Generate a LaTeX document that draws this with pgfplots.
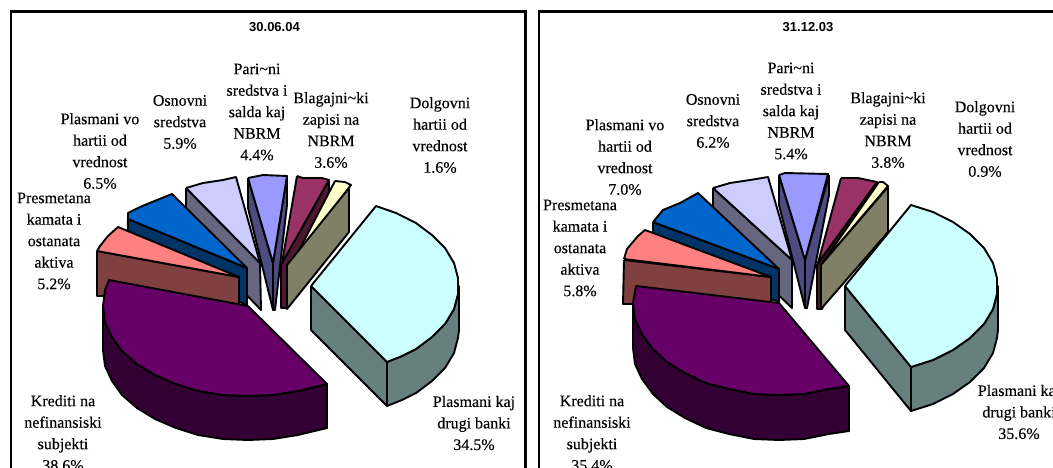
\documentclass[border=0pt]{standalone}
\usepackage{fontspec}
\usepackage{pgfplots}
\pgfplotsset{compat=1.18}
\setmainfont{Liberation Serif}[FakeBold=0.25]
\newfontfamily\titlefont{Liberation Sans}
\definecolor{cCyan}{HTML}{CCFFFF}\definecolor{sCyan}{HTML}{668080}
\definecolor{cPurp}{HTML}{660066}\definecolor{sPurp}{HTML}{330033}
\definecolor{cPink}{HTML}{FF8080}\definecolor{sPink}{HTML}{804040}
\definecolor{cBlue}{HTML}{0066CC}\definecolor{sBlue}{HTML}{003366}
\definecolor{cLav}{HTML}{CCCCFF}\definecolor{sLav}{HTML}{666680}
\definecolor{cPeri}{HTML}{9999FF}\definecolor{sPeri}{HTML}{4C4C80}
\definecolor{cMar}{HTML}{993366}\definecolor{sMar}{HTML}{4C1933}
\definecolor{cYel}{HTML}{FFFFCC}\definecolor{sYel}{HTML}{808066}
\pgfplotsset{sl/.style={draw=black,line width=1.9pt,line join=round,fill=#1}}
\tikzset{lab/.style={align=center,inner sep=0pt,font=\fontsize{16}{21.5}\selectfont},
 ttl/.style={inner sep=0pt,font=\titlefont\bfseries\fontsize{13}{15}\selectfont}}
\begin{document}
\begin{tikzpicture}
\path[use as bounding box] (0,0) rectangle (1053pt,467pt);
\clip (0,0) rectangle (1053pt,467pt);
\begin{axis}[at={(0,0)},anchor=south west,scale only axis,width=1053pt,height=467pt,
  xmin=0,xmax=1053,ymin=0,ymax=467,y dir=reverse,hide axis,clip=false]
% frames
\addplot[draw=black,line width=2.2pt] coordinates {(11,480)(11,11.5)(525.5,11.5)(525.5,480)};
\addplot[draw=black,line width=2.2pt] coordinates {(539,480)(539,11.5)(1070,11.5)(1070,480)};
%%% CHART 1
% lavender
\addplot[sl=sLav] coordinates {(186,188)(260,263)(261,310)(186,232)(186,188)};
\addplot[sl=cLav] coordinates {(186,188)(203,183)(223,180)(236,177)(260,263)(186,188)};
% periwinkle
\addplot[sl=sPeri] coordinates {(248,178)(273,263)(273,310)(248,208)(248,178)};
\addplot[sl=sPeri] coordinates {(287,176)(273,263)(273,310)(275,310)(287,205)(287,176)};
\addplot[sl=cPeri] coordinates {(248,178)(263,175)(287,176)(273,263)(248,178)};
% maroon
\addplot[sl=sMar] coordinates {(329,180)(329,200)(287,308)(281,308)(281,265)(329,180)};
\addplot[sl=cMar] coordinates {(297,176)(303,178)(322,178)(329,180)(282,263)(297,176)};
% yellow
\addplot[sl=cYel] coordinates {(335,181)(345,182)(351,185)(295,258)(335,181)};
\addplot[sl=sYel] coordinates {(349,188)(287,265)(287,309)(349,232)(349,188)};
% blue
\addplot[sl=sBlue] coordinates {(128,219)(247,268)(247,305)(127,256)(128,219)};
\addplot[sl=cBlue] coordinates {(128,219)(128,213)(140,207)(157,200)(172,194)(247,268)(128,219)};
% pink
\addplot[sl=sPink] coordinates {(97,251)(239,277)(239,310)(110,296)(97,296)(97,251)};
\addplot[sl=cPink] coordinates {(97,251)(100,246)(108,236)(118,227)(239,277)(97,251)};
% purple
\addplot[sl=sPurp] coordinates {(103,306)(105,322)(112,337)(122,351)(137,364)(155,375)(176,384)(198,391)(223,395)(248,396)(273,395)(298,391)(327,384)(327,428)(298,435)(273,439)(248,440)(223,439)(198,435)(176,428)(155,419)(137,408)(122,395)(112,381)(105,366)(103,350)(103,306)};
\addplot[sl=cPurp] coordinates {(248,306)(109,280)(105,290)(103,306)(105,322)(112,337)(122,351)(137,364)(155,375)(176,384)(198,391)(223,395)(248,396)(273,395)(298,391)(327,384)(248,306)};
% cyan
\addplot[sl=sCyan] coordinates {(311,286)(387,362)(387,406)(311,330)(311,286)};
\addplot[sl=sCyan] coordinates {(387,362)(402,356)(416,349)(432,337)(445,324)(454,309)(458,294)(459,286)(459,330)(458,338)(454,353)(445,368)(432,381)(416,393)(402,400)(387,406)(387,362)};
\addplot[sl=cCyan] coordinates {(311,286)(376,206)(396,213)(416,223)(432,235)(445,248)(454,263)(458,278)(458,294)(454,309)(445,324)(432,337)(416,349)(402,356)(387,362)(311,286)};
% labels
\node[ttl] at (axis cs:274.5,27) {30.06.04};
\node[lab] at (axis cs:180,122) {Osnovni\\sredstva\\5.9\%};
\node[lab] at (axis cs:100,151) {Plasmani vo\\hartii od\\vrednost\\6.5\%};
\node[lab] at (axis cs:257,112) {Pari\textasciitilde ni\\sredstva i\\salda kaj\\NBRM\\4.4\%};
\node[lab] at (axis cs:331,130) {Blagajni\textasciitilde ki\\zapisi na\\NBRM\\3.6\%};
\node[lab] at (axis cs:440,135) {Dolgovni\\hartii od\\vrednost\\1.6\%};
\node[lab] at (axis cs:54,241) {Presmetana\\kamata i\\ostanata\\aktiva\\5.2\%};
\node[lab] at (axis cs:63,433) {Krediti na\\nefinansiski\\subjekti\\38.6\%};
\node[lab] at (axis cs:474,423) {Plasmani kaj\\drugi banki\\34.5\%};
%%% CHART 2
% lavender
\addplot[sl=sLav] coordinates {(713,188)(792,260)(792,308)(713,232)(713,188)};
\addplot[sl=cLav] coordinates {(713,188)(730,183)(750,180)(768,177)(792,260)(713,188)};
% periwinkle
\addplot[sl=sPeri] coordinates {(779,175)(805,260)(805,308)(779,205)(779,175)};
\addplot[sl=sPeri] coordinates {(829,175)(805,260)(805,308)(807,308)(829,195)(829,175)};
\addplot[sl=cPeri] coordinates {(779,175)(785,173)(828,174)(805,260)(779,175)};
% maroon
\addplot[sl=sMar] coordinates {(877,182)(822,309)(817,309)(817,265)(877,182)};
\addplot[sl=cMar] coordinates {(841,178)(858,178)(877,182)(818,263)(841,178)};
% yellow
\addplot[sl=cYel] coordinates {(879,182)(883,182)(888,186)(821,265)(879,182)};
\addplot[sl=sYel] coordinates {(888,187)(821,265)(821,309)(888,232)(888,187)};
% blue
\addplot[sl=sBlue] coordinates {(653,222)(779,269)(779,302)(653,256)(653,222)};
\addplot[sl=cBlue] coordinates {(653,222)(663,210)(680,203)(698,193)(779,269)(653,222)};
% pink
\addplot[sl=sPink] coordinates {(624,260)(771,277)(771,310)(640,304)(623,304)(624,260)};
\addplot[sl=cPink] coordinates {(624,259)(627,249)(638,236)(645,230)(771,277)(624,259)};
% purple
\addplot[sl=sPurp] coordinates {(633,303)(635,319)(642,334)(653,349)(667,362)(685,373)(706,383)(729,389)(754,394)(779,395)(804,394)(829,389)(849,386)(849,431)(829,434)(804,439)(779,440)(754,439)(729,434)(706,428)(685,418)(667,407)(653,394)(642,379)(635,364)(633,348)(633,303)};
\addplot[sl=cPurp] coordinates {(779,303)(636,286)(633,303)(635,319)(642,334)(653,349)(667,362)(685,373)(706,383)(729,389)(754,394)(779,395)(804,394)(829,389)(849,386)(779,303)};
% cyan
\addplot[sl=sCyan] coordinates {(845,286)(911,367)(911,411)(845,330)(845,286)};
\addplot[sl=sCyan] coordinates {(911,367)(933,360)(953,350)(970,338)(984,324)(993,309)(997,294)(998,286)(998,330)(997,338)(993,353)(984,368)(970,382)(953,394)(933,404)(911,411)(911,367)};
\addplot[sl=cCyan] coordinates {(845,286)(911,205)(933,212)(953,222)(970,234)(984,248)(993,263)(997,278)(997,294)(993,309)(984,324)(970,338)(953,350)(933,360)(911,367)(845,286)};
% labels
\node[ttl] at (axis cs:808,27) {31.12.03};
\node[lab] at (axis cs:713,121) {Osnovni\\sredstva\\6.2\%};
\node[lab] at (axis cs:625,157) {Plasmani vo\\hartii od\\vrednost\\7.0\%};
\node[lab] at (axis cs:791,111) {Pari\textasciitilde ni\\sredstva i\\salda kaj\\NBRM\\5.4\%};
\node[lab] at (axis cs:888,130) {Blagajni\textasciitilde ki\\zapisi na\\NBRM\\3.8\%};
\node[lab] at (axis cs:985,139) {Dolgovni\\hartii od\\vrednost\\0.9\%};
\node[lab] at (axis cs:580,248) {Presmetana\\kamata i\\ostanata\\aktiva\\5.8\%};
\node[lab] at (axis cs:592,433) {Krediti na\\nefinansiski\\subjekti\\35.4\%};
\node[lab] at (axis cs:1019,412) {Plasmani kaj\\drugi banki\\35.6\%};
\end{axis}
\end{tikzpicture}
\end{document}
